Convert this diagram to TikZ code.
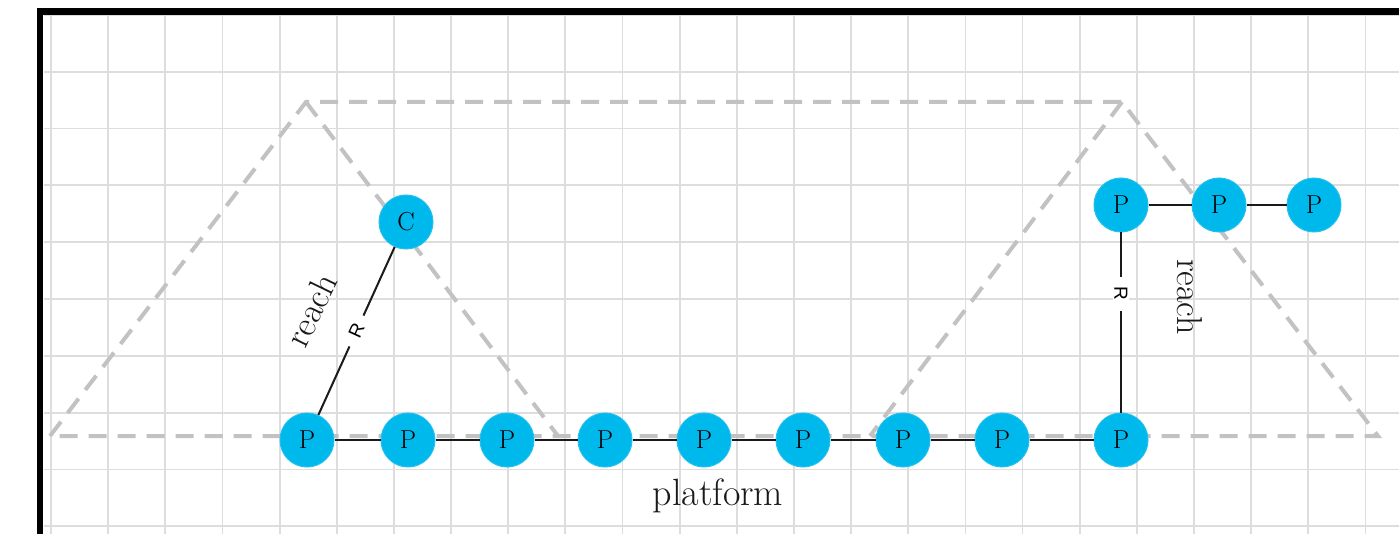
\documentclass[tikz,border=0pt]{standalone}
\usepackage{fontspec}
\setmainfont{Latin Modern Roman}
\newfontfamily\labelsans{Liberation Sans}
\usetikzlibrary{calc}
\definecolor{nodecyan}{HTML}{00B9EC}
\definecolor{nodeedge}{HTML}{22C0EE}
\definecolor{linkcol}{HTML}{1A1A1A}
\definecolor{guidegray}{HTML}{C2C2C2}
\definecolor{gridgray}{HTML}{DDDDDD}
\begin{document}
\begin{tikzpicture}[x=1pt,y=-1pt,
  pnode/.style={circle, fill=nodecyan, draw=nodeedge, line width=1pt,
    minimum size=54pt, inner sep=0pt, font=\fontsize{26}{26}\selectfont},
  link/.style={draw=linkcol, line width=2pt},
  rlabel/.style={fill=white, inner xsep=10pt, inner ysep=1pt,
    font=\labelsans\fontsize{19}{19}\selectfont},
  bigtext/.style={font=\fontsize{36}{36}\selectfont, text=black!90},
  guide/.style={draw=guidegray, line width=4pt, dash pattern=on 18pt off 11pt},
  gridline/.style={draw=gridgray, line width=1.8pt}]
\useasboundingbox (0,0) rectangle (1399,534);
\fill[white] (0,0) rectangle (1399,534);

% background grid and frame
\begin{scope}
  \clip (0,0) rectangle (1399,534);
  \foreach \k in {0,...,23}
    \draw[gridline] ({51+57.15*\k},15) -- ({51+57.15*\k},534);
  \foreach \k in {0,...,9}
    \draw[gridline] (44,{15+56.8*\k}) -- (1399,{15+56.8*\k});
  \draw[line width=6.5pt] (40,11.5) rectangle (1460,600);
\end{scope}

% dashed reach envelope
\draw[guide] (50,436) -- (306,102) -- (1122,102) -- (1378,436) -- cycle;
\draw[guide] (306,102) -- (558,436);
\draw[guide] (1122,102) -- (870,436);

% platform nodes
\node[pnode] (p1) at (307,440) {P};
\node[pnode] (p2) at (408,440) {P};
\node[pnode] (p3) at (507,440) {P};
\node[pnode] (p4) at (605,440) {P};
\node[pnode] (p5) at (704,440) {P};
\node[pnode] (p6) at (803,440) {P};
\node[pnode] (p7) at (903,440) {P};
\node[pnode] (p8) at (1002,440) {P};
\node[pnode] (p9) at (1121,440) {P};
\node[pnode] (q1) at (1121,205) {P};
\node[pnode] (q2) at (1219,205) {P};
\node[pnode] (q3) at (1314,205) {P};
\node[pnode] (c) at (406,222) {C};

% connections
\draw[link] (p1) -- (p2);
\draw[link] (p2) -- (p3);
\draw[link] (p3) -- (p4);
\draw[link] (p4) -- (p5);
\draw[link] (p5) -- (p6);
\draw[link] (p6) -- (p7);
\draw[link] (p7) -- (p8);
\draw[link] (p8) -- (p9);
\draw[link] (q1) -- (q2);
\draw[link] (q2) -- (q3);
\draw[link] (p1) -- node[rlabel, sloped] {R} (c);
\draw[link] (p9) -- node[rlabel, pos=0.66, rotate=-90] {R} (q1);

% labels
\node[bigtext, rotate=64] (reachL) at (311,310) {reach};
\node[bigtext, rotate=-90] (reachR) at (1190,297) {reach};
\node[bigtext, anchor=base, font=\fontsize{38}{38}\selectfont] (plat) at (718,505) {platform};
\end{tikzpicture}
\end{document}
